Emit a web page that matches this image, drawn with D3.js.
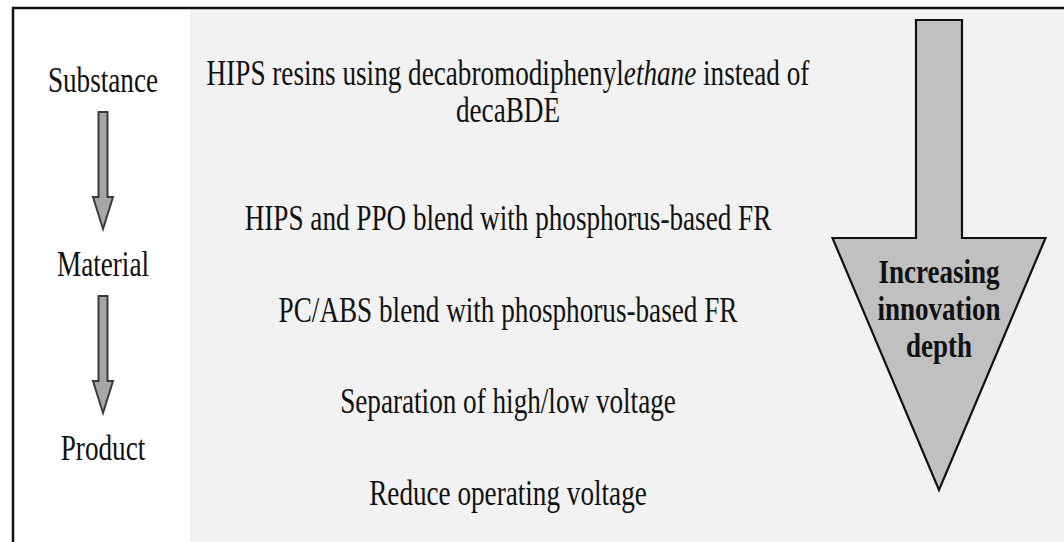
<!doctype html>
<html>
<head>
    <style>
        body {
            margin: 0;
            background: #fff;
        }

        svg {
            display: block;
        }

        text {
            font-family: "Liberation Serif", "DejaVu Serif", "Noto Serif", Times, serif;
            fill: #111;
        }

        text.level,
        text.item {
            font-size: 36px;
        }

        text.depth {
            font-size: 33px;
            font-weight: 700;
        }

        .small-arrow {
            fill: #a6a6a6;
            stroke: #3a3a3a;
            stroke-width: 2;
        }

        .big-arrow {
            fill: #c0c0c0;
            stroke: #111;
            stroke-width: 2.2;
        }
    </style>
    <script src="https://d3js.org/d3.v7.min.js"></script>
</head>
<body>
<svg width="1064" height="542"></svg>
<script>
    // left column: levels of change
    const levels = ['Substance', 'Material', 'Product']

    // middle column, one entry per option (lines of each entry, *...* = italic)
    const innovations = [
        ['HIPS resins using decabromodiphenyl*ethane* instead of', 'decaBDE'],
        ['HIPS and PPO blend with phosphorus-based FR'],
        ['PC/ABS blend with phosphorus-based FR'],
        ['Separation of high/low voltage'],
        ['Reduce operating voltage']
    ]

    // label inside the big arrow
    const depthLabel = ['Increasing', 'innovation', 'depth']

    const W = 1064, H = 542
    const textScale = 0.755   // source text is horizontally squeezed
    const boldScale = 0.82
    const lineH = 37

    const svg = d3.select('svg')

    // shaded panel behind the options and the big arrow
    svg.append('rect')
        .attr('x', 190)
        .attr('y', 9)
        .attr('width', W - 190)
        .attr('height', H - 9)
        .attr('fill', '#f2f2f2')

    // frame (only top and left edges are visible in the crop)
    svg.append('path')
        .attr('d', `M13,${H} L13,8 L${W},8`)
        .attr('fill', 'none')
        .attr('stroke', '#111')
        .attr('stroke-width', 2.5)

    // ---- left column ----
    const yLevel = d3.scalePoint()
        .domain(levels)
        .range([92, 460])
    const xLevel = 103

    svg.selectAll('text.level')
        .data(levels)
        .join('text')
        .attr('class', 'level')
        .attr('text-anchor', 'middle')
        .attr('transform', (d) => `translate(${xLevel}, ${yLevel(d)}) scale(${textScale}, 1)`)
        .text((d) => d)

    const arrowPath = (x, y0, y1, shaftW, headW, headH) => {
        const s = shaftW / 2, h = headW / 2
        return `M${x - s},${y0} L${x + s},${y0} L${x + s},${y1 - headH} L${x + h},${y1 - headH}` +
            ` L${x},${y1} L${x - h},${y1 - headH} L${x - s},${y1 - headH} Z`
    }

    const steps = d3.pairs(levels)
    svg.selectAll('path.small-arrow')
        .data(steps)
        .join('path')
        .attr('class', 'small-arrow')
        .attr('d', ([a, b]) => arrowPath(xLevel, yLevel(a) + 20, yLevel(b) - 47, 9, 20, 32))

    // ---- middle column ----
    const yRow = d3.scaleLinear()
        .domain([1, innovations.length - 1])
        .range([230, 505])
    const xMid = 508

    const rows = svg.selectAll('g.row')
        .data(innovations)
        .join('g')
        .attr('class', 'row')
        .attr('transform', (d, i) => {
            // multi-line entries stack upward from their row position
            const base = i === 0 ? yRow(1) - 108 : yRow(i)
            return `translate(${xMid}, ${base - (d.length - 1) * lineH}) scale(${textScale}, 1)`
        })

    rows.each(function (lines) {
        const g = d3.select(this)
        lines.forEach((line, li) => {
            const t = g.append('text')
                .attr('class', 'item')
                .attr('text-anchor', 'middle')
                .attr('y', li * lineH)
            line.split('*').forEach((part, pi) => {
                if (!part) return
                t.append('tspan')
                    .attr('font-style', pi % 2 ? 'italic' : null)
                    .text(part)
            })
        })
    })

    // ---- big arrow: increasing innovation depth ----
    const xBig = 939
    const yBig = d3.scaleLinear().domain([0, 1]).range([20, 490])
    svg.append('path')
        .attr('class', 'big-arrow')
        .attr('d', arrowPath(xBig, yBig(0), yBig(1), 46, 213, yBig(1) - 238))

    svg.selectAll('text.depth')
        .data(depthLabel)
        .join('text')
        .attr('class', 'depth')
        .attr('text-anchor', 'middle')
        .attr('transform', (d, i) => `translate(${xBig}, ${283 + i * 37}) scale(${boldScale}, 1)`)
        .text((d) => d)
</script>
</body>
</html>
